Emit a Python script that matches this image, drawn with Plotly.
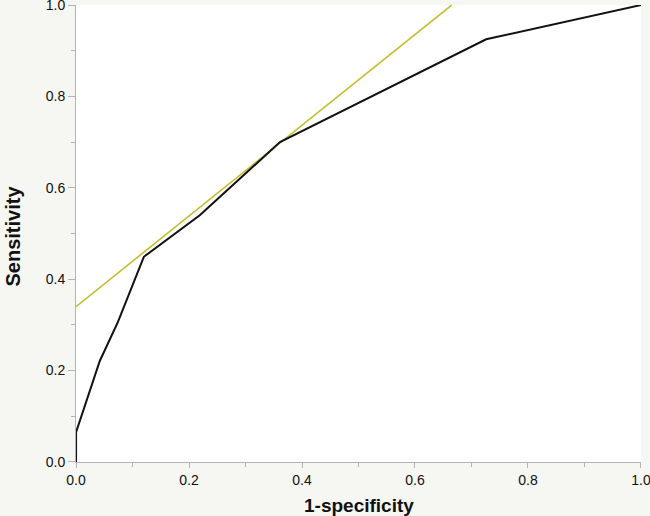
import plotly.graph_objects as go

# ROC curve points (1-specificity, sensitivity)
fpr = [0.0, 0.0, 0.042, 0.074, 0.12, 0.219, 0.361, 0.726, 1.0]
tpr = [0.0, 0.065, 0.221, 0.306, 0.449, 0.540, 0.700, 0.925, 1.0]

# Tangent line
tan_x = [0.0, 0.665]
tan_y = [0.34, 1.0]

tickvals = [0.0, 0.2, 0.4, 0.6, 0.8, 1.0]
ticktext = ["0.0", "0.2", "0.4", "0.6", "0.8", "1.0"]

FONT = "Liberation Sans, Arial, sans-serif"

fig = go.Figure()
fig.add_trace(go.Scatter(x=tan_x, y=tan_y, mode="lines",
                         line=dict(color="#c6bd2e", width=1.6),
                         hoverinfo="skip", cliponaxis=False))
fig.add_trace(go.Scatter(x=fpr, y=tpr, mode="lines",
                         line=dict(color="#111111", width=2),
                         cliponaxis=False))

axis_common = dict(
    range=[-0.0001, 1.0001], tickvals=tickvals, ticktext=ticktext,
    showgrid=False, zeroline=False, showline=True,
    linecolor="#b4b4b4", linewidth=1,
    ticks="outside", tickcolor="#b4b4b4", tickwidth=1,
    tickfont=dict(family=FONT, size=14, color="#111111"),
    ticklabeloverflow="allow",
    minor=dict(tickvals=[0.1, 0.3, 0.5, 0.7, 0.9], ticks="outside", ticklen=4,
               tickcolor="#b4b4b4", tickwidth=1, showgrid=False),
    fixedrange=True, automargin=False,
)

fig.update_layout(
    width=650, height=516,
    margin=dict(l=76, r=9, t=5, b=54),
    paper_bgcolor="#f6f6f2", plot_bgcolor="#ffffff",
    showlegend=False,
    xaxis=dict(**axis_common, ticklen=5),
    yaxis=dict(**axis_common, ticklen=7),
    annotations=[
        dict(text="<b>1-specificity</b>", xref="paper", yref="paper", x=0.5, y=0,
             xanchor="center", yanchor="middle", yshift=-43, showarrow=False,
             font=dict(family=FONT, size=19, color="#111111")),
        dict(text="<b>Sensitivity</b>", xref="paper", yref="paper", x=0, y=0.5,
             xanchor="center", yanchor="middle", xshift=-64, yshift=-3, textangle=-90,
             showarrow=False,
             font=dict(family=FONT, size=20, color="#111111")),
    ],
)

fig.write_html(
    "out.html",
    config={"displayModeBar": False},
    post_script="document.body.style.margin='0';document.body.style.overflow='hidden';"
                "document.documentElement.style.overflow='hidden';",
)
